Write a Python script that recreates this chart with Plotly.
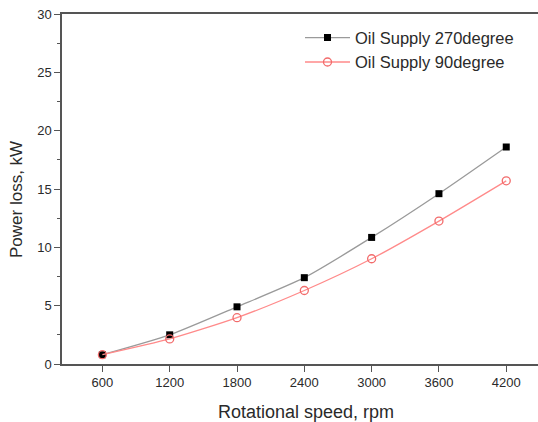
import plotly.graph_objects as go

# Rotational speed (rpm) and power loss (kW) for two oil supply angles
speed_rpm = [600, 1200, 1800, 2400, 3000, 3600, 4200]
loss_270deg = [0.8, 2.5, 4.9, 7.4, 10.85, 14.6, 18.6]
loss_90deg = [0.8, 2.15, 3.97, 6.3, 9.02, 12.25, 15.7]

x_ticks = [600, 1200, 1800, 2400, 3000, 3600, 4200]
y_ticks = [0, 5, 10, 15, 20, 25, 30]

FONT = "Liberation Sans, Arial, sans-serif"
AXIS_COLOR = "#555555"
TEXT_COLOR = "#2a2a2a"

fig = go.Figure()
fig.add_trace(go.Scatter(
    x=speed_rpm, y=loss_270deg, name="Oil Supply 270degree",
    mode="lines+markers", line=dict(color="#9a9a9a", width=1.3, shape="spline", smoothing=0.6),
    marker=dict(symbol="square", size=7, color="black"),
))
fig.add_trace(go.Scatter(
    x=speed_rpm, y=loss_90deg, name="Oil Supply 90degree",
    mode="lines+markers", line=dict(color="#ff8a8a", width=1.3, shape="spline", smoothing=0.6),
    marker=dict(symbol="circle-open", size=8, color="#f26b6b", line=dict(width=1.3)),
))

fig.update_layout(
    width=538, height=422,
    margin=dict(l=62, r=0, t=14, b=58),
    paper_bgcolor="white", plot_bgcolor="white",
    font=dict(family=FONT, color=TEXT_COLOR, size=12),
    showlegend=True,
    legend=dict(
        x=0.5, y=0.982, xanchor="left", yanchor="top",
        bgcolor="rgba(0,0,0,0)", font=dict(size=16.5, color=TEXT_COLOR),
        itemwidth=45, tracegroupgap=0,
    ),
    xaxis=dict(
        range=[240, 4483], tickvals=x_ticks, ticks="outside", ticklen=6,
        tickwidth=1.2, tickcolor=AXIS_COLOR, showline=True, linecolor=AXIS_COLOR,
        linewidth=1.5, mirror=True, showgrid=False, zeroline=False,
        tickfont=dict(size=13, color=TEXT_COLOR),
    ),
    yaxis=dict(
        range=[0, 30], tickvals=y_ticks, ticks="outside", ticklen=6,
        tickwidth=1.2, tickcolor=AXIS_COLOR, showline=True, linecolor=AXIS_COLOR,
        linewidth=1.5, showgrid=False, zeroline=False,
        tickfont=dict(size=13, color=TEXT_COLOR),
        minor=dict(dtick=2.5, ticks="outside", ticklen=3, tickcolor=AXIS_COLOR, showgrid=False),
    ),
    annotations=[
        dict(text="Rotational speed, rpm", xref="paper", yref="paper",
             x=0.5126, y=-0.137, xanchor="center", yanchor="middle",
             showarrow=False, font=dict(size=18, color=TEXT_COLOR)),
        dict(text="Power loss, kW", xref="paper", yref="paper",
             x=-0.0945, y=0.4686, xanchor="center", yanchor="middle", textangle=-90,
             showarrow=False, font=dict(size=17, color=TEXT_COLOR)),
    ],
)

fig.write_html("out.html")
